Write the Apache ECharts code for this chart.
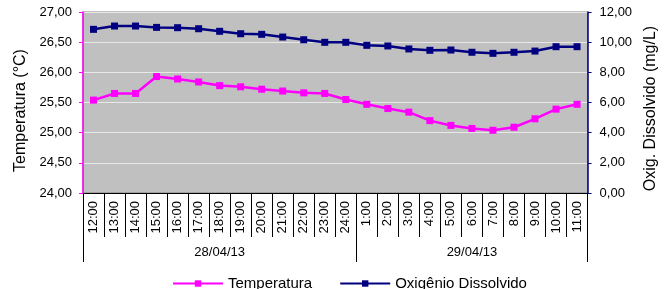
<!DOCTYPE html>
<html lang="pt">
<head>
    <meta charset="UTF-8">
    <title>Temperatura e Oxigênio Dissolvido</title>
    <script src="https://cdn.jsdelivr.net/npm/echarts@6/dist/echarts.min.js"></script>
</head>
<body style="margin:0">
<div id="chart" style="width:667px;height:289px;"></div>
<script>
    var hours = ['12:00', '13:00', '14:00', '15:00', '16:00', '17:00', '18:00', '19:00', '20:00', '21:00', '22:00', '23:00', '24:00',
        '1:00', '2:00', '3:00', '4:00', '5:00', '6:00', '7:00', '8:00', '9:00', '10:00', '11:00'];
    var days = ['28/04/13', '29/04/13'];
    var dayOfHour = [0, 0, 0, 0, 0, 0, 0, 0, 0, 0, 0, 0, 0, 1, 1, 1, 1, 1, 1, 1, 1, 1, 1, 1];
    var temperatura = [25.54, 25.65, 25.65, 25.93, 25.89, 25.84, 25.78, 25.76, 25.72, 25.69, 25.66, 25.65, 25.55,
        25.47, 25.40, 25.34, 25.20, 25.12, 25.07, 25.04, 25.09, 25.23, 25.39, 25.47];
    var oxigenio = [10.85, 11.07, 11.07, 10.98, 10.96, 10.89, 10.72, 10.56, 10.52, 10.34, 10.16, 9.99, 9.99,
        9.79, 9.75, 9.55, 9.46, 9.48, 9.33, 9.26, 9.33, 9.41, 9.70, 9.70];

    var dayLabels = dayOfHour.map(function (d) { return days[d]; });

    var fmt = function (v) { return v.toFixed(2).replace('.', ','); };
    var font = 'Liberation Sans, Arial, sans-serif';

    var myChart = echarts.init(document.getElementById('chart'));
    var option = {
        animation: false,
        textStyle: {fontFamily: font},
        grid: {
            left: 83, right: 78, top: 12, bottom: 96,
            show: true,
            backgroundColor: '#C0C0C0',
            borderColor: '#808080',
            borderWidth: 1
        },
        legend: {
            left: 167,
            top: 271,
            itemWidth: 50,
            itemHeight: 8,
            itemGap: 27,
            textStyle: {fontSize: 15, color: '#000', fontFamily: font},
            data: ['Temperatura', 'Oxigênio Dissolvido']
        },
        xAxis: [
            {
                type: 'category',
                data: hours,
                position: 'bottom',
                axisLine: {lineStyle: {color: '#000', width: 1}},
                axisTick: {show: true, interval: 0, length: 44, lineStyle: {color: '#000'}},
                axisLabel: {rotate: 90, interval: 0, fontSize: 13, color: '#000', margin: 8, fontFamily: font}
            },
            {
                type: 'category',
                data: dayLabels,
                position: 'bottom',
                offset: 44,
                axisLine: {show: false},
                axisTick: {
                    show: true, length: 25, lineStyle: {color: '#000'},
                    interval: function (index) { return index === 0 || index === 13; }
                },
                axisLabel: {
                    fontSize: 13, color: '#000', margin: 9, fontFamily: font,
                    interval: function (index) { return index === 6 || index === 18; }
                }
            }
        ],
        yAxis: [
            {
                type: 'value',
                min: 24, max: 27, interval: 0.5,
                name: 'Temperatura (°C)',
                nameLocation: 'middle',
                nameGap: 54,
                nameTextStyle: {fontSize: 16, color: '#000', fontFamily: font, padding: [0, 16, 0, 0]},
                axisLine: {show: true, lineStyle: {color: '#FF00FF', width: 1.5}},
                axisTick: {show: true, length: 4, lineStyle: {color: '#FF00FF'}},
                axisLabel: {formatter: fmt, fontSize: 13, color: '#000', margin: 11, fontFamily: font},
                splitLine: {show: true, lineStyle: {color: '#E8E8E8', width: 1}}
            },
            {
                type: 'value',
                min: 0, max: 12, interval: 2,
                name: 'Oxig. Dissolvido (mg/L)',
                nameLocation: 'middle',
                nameGap: 48,
                nameTextStyle: {fontSize: 16, color: '#000', fontFamily: font, padding: [0, 12, 0, 0]},
                axisLine: {show: true, lineStyle: {color: '#000080', width: 1.5}},
                axisTick: {show: true, length: 4, lineStyle: {color: '#000080'}},
                axisLabel: {formatter: fmt, fontSize: 13, color: '#000', margin: 12, fontFamily: font},
                splitLine: {show: false}
            }
        ],
        series: [
            {
                name: 'Temperatura',
                type: 'line',
                yAxisIndex: 0,
                data: temperatura,
                symbol: 'rect',
                symbolSize: 7,
                itemStyle: {color: '#FF00FF'},
                lineStyle: {color: '#FF00FF', width: 2.5}
            },
            {
                name: 'Oxigênio Dissolvido',
                type: 'line',
                yAxisIndex: 1,
                data: oxigenio,
                symbol: 'rect',
                symbolSize: 7,
                itemStyle: {color: '#000080'},
                lineStyle: {color: '#000080', width: 2.5}
            }
        ]
    };
    myChart.setOption(option);
</script>
</body>
</html>
